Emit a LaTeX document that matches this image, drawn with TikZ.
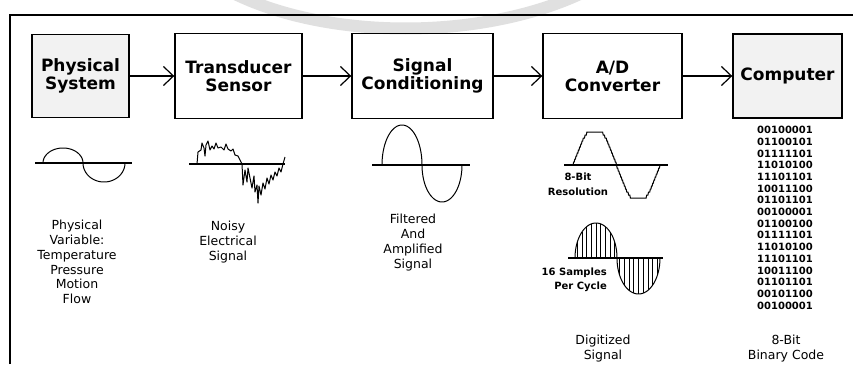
\documentclass[tikz,border=0pt]{standalone}
\usepackage{fontspec}
\setmainfont{DejaVu Sans}
\usetikzlibrary{arrows.meta}
\begin{document}
\begin{tikzpicture}[x=1pt,y=-1pt,
  blk/.style={draw, line width=1.4pt, align=center, font=\bfseries\fontsize{17}{18}\selectfont, inner sep=0pt},
  arr/.style={line width=1.2pt, -{Straight Barb[length=10pt,width=19pt,line width=1.2pt]}},
  wave/.style={line width=1pt},
  axisline/.style={line width=1.1pt},
  lbl/.style={align=center, font=\fontsize{12.5}{14.8}\selectfont, inner sep=0pt, anchor=north},
  small/.style={align=center, font=\bfseries\fontsize{10}{15}\selectfont, inner sep=0pt},
]
\useasboundingbox (0,0) rectangle (853,364);
\fill[white] (0,0) rectangle (853,364);
% faint watermark arc
\draw[black!12, line width=12pt] (235,-6) .. controls (330,40) and (480,40) .. (580,-6);
% frame
\draw[line width=2pt] (10,364) -- (10,15) -- (853,15);

% blocks
\node[blk, fill=black!5, minimum width=97pt, minimum height=83pt] (ps) at (80.5,76) {Physical\\System};
\node[blk, minimum width=127pt, minimum height=85pt] (ts) at (238.5,76) {Transducer\\Sensor};
\node[blk, minimum width=141pt, minimum height=85pt] (sc) at (422.5,76) {Signal\\Conditioning};
\node[blk, minimum width=139pt, minimum height=85pt] (ad) at (612.5,76) {A/D\\Converter};
\node[blk, fill=black!5, minimum width=109pt, minimum height=84pt] (pc) at (787.5,76) {Computer};

\draw[arr] (ps) -- (ts);
\draw[arr] (ts) -- (sc);
\draw[arr] (sc) -- (ad);
\draw[arr] (ad) -- (pc);

% physical variable wave
\draw[axisline] (35,163) -- (132,163);
\draw[wave] plot[domain=0:180, samples=40] ({63-20*cos(\x)},{163-15*sin(\x)});
\draw[wave] plot[domain=0:180, samples=40] ({104-21*cos(\x)},{163+19*sin(\x)});

% noisy signal
\draw[axisline] (189,164) -- (285,164);
\draw[wave, line join=round] (197,164) -- (198,152) -- (201,150) -- (202,143) -- (204,148) -- (205,156) -- (206,145) -- (208,141) -- (210,150) -- (212,146) -- (214,149) -- (216,143) -- (218,148) -- (221,147) -- (224,150) -- (226,144) -- (228,149) -- (231,151) -- (233,149) -- (235,155) -- (238,156) -- (240,160) -- (242,164) -- (243,185) -- (245,170) -- (247,182) -- (248,168) -- (250,178) -- (252,188) -- (254,176) -- (255,192) -- (257,185) -- (258,203) -- (259,186) -- (261,195) -- (263,183) -- (265,189) -- (267,178) -- (269,184) -- (271,175) -- (273,180) -- (275,172) -- (277,176) -- (279,168) -- (281,172) -- (283,164) -- (285,157);

% filtered and amplified
\draw[axisline] (372,165) -- (470,165);
\draw[wave] plot[domain=0:180, samples=50] ({402-20*cos(\x)},{165-40*sin(\x)});
\draw[wave] plot[domain=0:180, samples=50] ({442-20*cos(\x)},{165+37*sin(\x)});

% digitized (8-bit)
\draw[axisline] (564,165) -- (668,165);
\draw[wave] plot[domain=0:360, samples=145] ({573+0.2416667*\x},{165-3*round(max(-10.7,min(10.7,12.8*sin(\x))))});
\node[small] (res) at (578,184.5) {8-Bit\\Resolution};

% sampled
\draw[axisline] (568,258) -- (663,258);
\draw[wave] plot[domain=0:180, samples=50] ({596-21*cos(\x)},{258-35*sin(\x)});
\draw[wave] plot[domain=0:180, samples=50] ({638.5-21.5*cos(\x)},{258+36*sin(\x)});
\foreach \k in {1,...,9}{
  \pgfmathsetmacro\u{-1+(2*\k-1)/9}
  \pgfmathsetmacro\h{35*sqrt(1-\u*\u)}
  \pgfmathsetmacro\g{36*sqrt(1-\u*\u)}
  \draw[line width=0.9pt] ({596+21*\u},258) -- ({596+21*\u},{258-\h});
  \draw[line width=0.9pt] ({638.5+21.5*\u},258) -- ({638.5+21.5*\u},{258+\g});
}
\node[small, align=right, anchor=east, font=\bfseries\fontsize{10}{14}\selectfont] (spc) at (607,280) {16 Samples\\Per Cycle};

% binary code
\node[anchor=north, inner sep=0pt, align=center, font=\bfseries\fontsize{10}{11.7}\selectfont] (bin) at (785,126) {00100001\\01100101\\01111101\\11010100\\11101101\\10011100\\01101101\\00100001\\01100100\\01111101\\11010100\\11101101\\10011100\\01101101\\00101100\\00100001};

% labels
\node[lbl] (l1) at (77,220) {Physical\\Variable:\\Temperature\\Pressure\\Motion\\Flow};
\node[lbl] (l2) at (228,221) {Noisy\\Electrical\\Signal};
\node[lbl] (l3) at (413,214) {Filtered\\And\\Amplified\\Signal};
\node[lbl] (l4) at (603,335) {Digitized\\Signal};
\node[lbl] (l5) at (786,335) {8-Bit\\Binary Code};
\end{tikzpicture}
\end{document}
